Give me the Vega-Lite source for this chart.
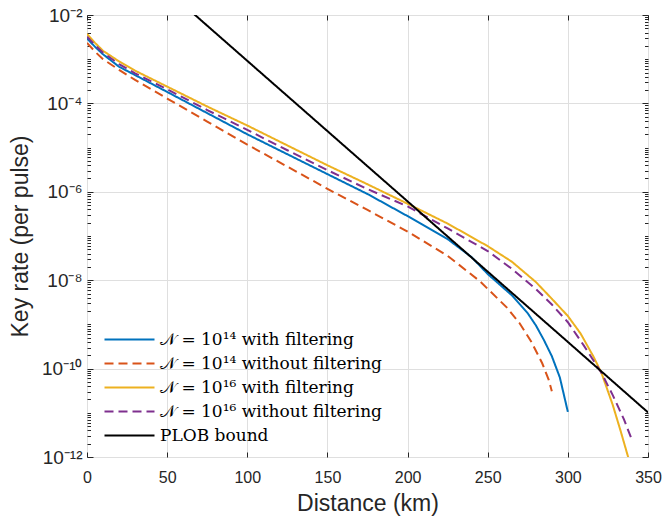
{
  "$schema": "https://vega.github.io/schema/vega-lite/v6.json",
  "width": 561,
  "height": 442,
  "autosize": "none",
  "padding": {"left": 87, "top": 15, "right": 16, "bottom": 59},
  "background": "white",
  "config": {
    "view": {"stroke": "#262626", "strokeWidth": 1},
    "axis": {
      "labelFont": "Liberation Sans",
      "labelFontSize": 16,
      "labelColor": "#262626",
      "titleFont": "Liberation Sans",
      "titleFontSize": 23,
      "titleFontWeight": "normal",
      "titleColor": "#262626",
      "gridColor": "#dfdfdf",
      "gridOpacity": 1,
      "tickColor": "#262626",
      "domain": false
    }
  },
  "data": {
    "values": [
      {"s": "N14w", "d": 0, "k": 2.95e-3},
      {"s": "N14w", "d": 5, "k": 1.91e-3},
      {"s": "N14w", "d": 10, "k": 1.29e-3},
      {"s": "N14w", "d": 20, "k": 6.76e-4},
      {"s": "N14w", "d": 30, "k": 4.37e-4},
      {"s": "N14w", "d": 50, "k": 1.82e-4},
      {"s": "N14w", "d": 75, "k": 6.03e-5},
      {"s": "N14w", "d": 100, "k": 2.0e-5},
      {"s": "N14w", "d": 125, "k": 7.08e-6},
      {"s": "N14w", "d": 150, "k": 2.51e-6},
      {"s": "N14w", "d": 175, "k": 8.91e-7},
      {"s": "N14w", "d": 200, "k": 2.82e-7},
      {"s": "N14w", "d": 225, "k": 8.51e-8},
      {"s": "N14w", "d": 240, "k": 3.31e-8},
      {"s": "N14w", "d": 250, "k": 1.38e-8},
      {"s": "N14w", "d": 265, "k": 4.57e-9},
      {"s": "N14w", "d": 275, "k": 1.78e-9},
      {"s": "N14w", "d": 280, "k": 9.55e-10},
      {"s": "N14w", "d": 285, "k": 4.47e-10},
      {"s": "N14w", "d": 290, "k": 1.91e-10},
      {"s": "N14w", "d": 295, "k": 6.31e-11},
      {"s": "N14w", "d": 300, "k": 1.05e-11},

      {"s": "N14o", "d": 0, "k": 2.34e-3},
      {"s": "N14o", "d": 5, "k": 1.48e-3},
      {"s": "N14o", "d": 10, "k": 1.0e-3},
      {"s": "N14o", "d": 20, "k": 5.75e-4},
      {"s": "N14o", "d": 30, "k": 3.39e-4},
      {"s": "N14o", "d": 50, "k": 1.29e-4},
      {"s": "N14o", "d": 75, "k": 3.89e-5},
      {"s": "N14o", "d": 100, "k": 1.17e-5},
      {"s": "N14o", "d": 125, "k": 3.72e-6},
      {"s": "N14o", "d": 150, "k": 1.17e-6},
      {"s": "N14o", "d": 175, "k": 3.89e-7},
      {"s": "N14o", "d": 200, "k": 1.26e-7},
      {"s": "N14o", "d": 225, "k": 3.55e-8},
      {"s": "N14o", "d": 245, "k": 9.55e-9},
      {"s": "N14o", "d": 262, "k": 2.40e-9},
      {"s": "N14o", "d": 270, "k": 1.05e-9},
      {"s": "N14o", "d": 277, "k": 4.17e-10},
      {"s": "N14o", "d": 284, "k": 1.32e-10},
      {"s": "N14o", "d": 288, "k": 5.62e-11},
      {"s": "N14o", "d": 290, "k": 3.09e-11},

      {"s": "N16w", "d": 0, "k": 3.72e-3},
      {"s": "N16w", "d": 5, "k": 2.34e-3},
      {"s": "N16w", "d": 10, "k": 1.55e-3},
      {"s": "N16w", "d": 20, "k": 8.91e-4},
      {"s": "N16w", "d": 30, "k": 5.5e-4},
      {"s": "N16w", "d": 50, "k": 2.4e-4},
      {"s": "N16w", "d": 75, "k": 8.51e-5},
      {"s": "N16w", "d": 100, "k": 3.16e-5},
      {"s": "N16w", "d": 125, "k": 1.12e-5},
      {"s": "N16w", "d": 150, "k": 3.98e-6},
      {"s": "N16w", "d": 175, "k": 1.48e-6},
      {"s": "N16w", "d": 200, "k": 5.37e-7},
      {"s": "N16w", "d": 225, "k": 1.91e-7},
      {"s": "N16w", "d": 250, "k": 5.89e-8},
      {"s": "N16w", "d": 265, "k": 2.63e-8},
      {"s": "N16w", "d": 280, "k": 9.12e-9},
      {"s": "N16w", "d": 290, "k": 3.8e-9},
      {"s": "N16w", "d": 300, "k": 1.55e-9},
      {"s": "N16w", "d": 308, "k": 6.17e-10},
      {"s": "N16w", "d": 316, "k": 1.86e-10},
      {"s": "N16w", "d": 321, "k": 7.94e-11},
      {"s": "N16w", "d": 328, "k": 1.51e-11},
      {"s": "N16w", "d": 333, "k": 3.8e-12},
      {"s": "N16w", "d": 338, "k": 8.9e-13},

      {"s": "N16o", "d": 0, "k": 3.24e-3},
      {"s": "N16o", "d": 5, "k": 2.09e-3},
      {"s": "N16o", "d": 10, "k": 1.41e-3},
      {"s": "N16o", "d": 20, "k": 7.76e-4},
      {"s": "N16o", "d": 30, "k": 4.79e-4},
      {"s": "N16o", "d": 50, "k": 2.09e-4},
      {"s": "N16o", "d": 75, "k": 7.08e-5},
      {"s": "N16o", "d": 100, "k": 2.51e-5},
      {"s": "N16o", "d": 125, "k": 8.71e-6},
      {"s": "N16o", "d": 150, "k": 3.09e-6},
      {"s": "N16o", "d": 175, "k": 1.15e-6},
      {"s": "N16o", "d": 200, "k": 4.68e-7},
      {"s": "N16o", "d": 225, "k": 1.48e-7},
      {"s": "N16o", "d": 250, "k": 4.57e-8},
      {"s": "N16o", "d": 265, "k": 1.82e-8},
      {"s": "N16o", "d": 280, "k": 6.31e-9},
      {"s": "N16o", "d": 290, "k": 2.82e-9},
      {"s": "N16o", "d": 300, "k": 1.12e-9},
      {"s": "N16o", "d": 310, "k": 3.31e-10},
      {"s": "N16o", "d": 321, "k": 7.94e-11},
      {"s": "N16o", "d": 328, "k": 2.51e-11},
      {"s": "N16o", "d": 335, "k": 7.08e-12},
      {"s": "N16o", "d": 339.5, "k": 2.69e-12},

      {"s": "PLOB", "d": 60, "k": 1.72e-2},
      {"s": "PLOB", "d": 100, "k": 9.18e-4},
      {"s": "PLOB", "d": 150, "k": 2.36e-5},
      {"s": "PLOB", "d": 200, "k": 6.07e-7},
      {"s": "PLOB", "d": 250, "k": 1.56e-8},
      {"s": "PLOB", "d": 300, "k": 4.01e-10},
      {"s": "PLOB", "d": 350, "k": 1.02e-11}
    ]
  },
  "resolve": {"axis": {"x": "independent", "y": "independent"}},
  "layer": [
    {
      "mark": {"type": "line", "strokeWidth": 2, "clip": true},
      "encoding": {
        "x": {
          "field": "d", "type": "quantitative",
          "scale": {"domain": [0, 350], "nice": false, "zero": false},
          "axis": {"orient": "bottom", "title": "Distance (km)", "values": [0, 50, 100, 150, 200, 250, 300, 350], "ticks": false, "grid": true, "labelPadding": 12, "titlePadding": 7, "labelFlush": false}
        },
        "y": {
          "field": "k", "type": "quantitative",
          "scale": {"type": "log", "domain": [1e-12, 1e-2], "nice": false},
          "axis": {
            "orient": "left", "title": "Key rate (per pulse)",
            "values": [1e-12, 1e-10, 1e-8, 1e-6, 1e-4, 1e-2],
            "ticks": false, "grid": true, "labelPadding": 5, "titlePadding": 9, "labelFlush": false, "labelFontSize": 19,
            "labelExpr": "'10' + replace(replace(replace(replace(replace(replace(replace(toString(round(log(datum.value)/LN10)),'-','⁻'),'0','⁰'),'1','¹'),'2','²'),'4','⁴'),'6','⁶'),'8','⁸')"
          }
        },
        "color": {
          "field": "s", "type": "nominal",
          "scale": {
            "domain": ["N14w", "N14o", "N16w", "N16o", "PLOB"],
            "range": ["#0072BD", "#D95319", "#EDB120", "#7E2F8E", "#000000"]
          },
          "legend": {
            "title": null, "orient": "none", "legendX": 34, "legendY": 316,
            "symbolType": "M-5,0H5", "symbolSize": 100, "symbolStrokeWidth": 2,
            "labelFont": "DejaVu Serif", "labelFontSize": 17, "labelColor": "#000000", "labelLimit": 400,
            "labelOffset": 22, "rowPadding": 6, "padding": 0,
            "labelExpr": "datum.value == 'N14w' ? '𝒩 = 10¹⁴ with filtering' : datum.value == 'N14o' ? '𝒩 = 10¹⁴ without filtering' : datum.value == 'N16w' ? '𝒩 = 10¹⁶ with filtering' : datum.value == 'N16o' ? '𝒩 = 10¹⁶ without filtering' : 'PLOB bound'"
          }
        },
        "strokeDash": {
          "field": "s", "type": "nominal",
          "scale": {
            "domain": ["N14w", "N14o", "N16w", "N16o", "PLOB"],
            "range": [[1, 0], [9, 5], [1, 0], [9, 5], [1, 0]]
          },
          "legend": {
            "title": null, "orient": "none", "legendX": 34, "legendY": 316,
            "symbolType": "M-5,0H5", "symbolSize": 100, "symbolStrokeWidth": 2,
            "labelFont": "DejaVu Serif", "labelFontSize": 17, "labelColor": "#000000", "labelLimit": 400,
            "labelOffset": 22, "rowPadding": 6, "padding": 0,
            "labelExpr": "datum.value == 'N14w' ? '𝒩 = 10¹⁴ with filtering' : datum.value == 'N14o' ? '𝒩 = 10¹⁴ without filtering' : datum.value == 'N16w' ? '𝒩 = 10¹⁶ with filtering' : datum.value == 'N16o' ? '𝒩 = 10¹⁶ without filtering' : 'PLOB bound'"
          }
        }
      }
    },
    {
      "mark": {"type": "point", "opacity": 0},
      "encoding": {
        "x": {"field": "d", "type": "quantitative", "axis": {"orient": "bottom", "values": [0, 50, 100, 150, 200, 250, 300, 350], "labels": false, "grid": false, "title": null, "tickSize": -5}},
        "y": {"field": "k", "type": "quantitative", "axis": {"orient": "left", "values": [1e-12, 1e-10, 1e-8, 1e-6, 1e-4, 1e-2], "labels": false, "grid": false, "title": null, "tickSize": -6}}
      }
    },
    {
      "mark": {"type": "point", "opacity": 0},
      "encoding": {
        "x": {"field": "d", "type": "quantitative", "axis": {"orient": "top", "values": [0, 50, 100, 150, 200, 250, 300, 350], "labels": false, "grid": false, "title": null, "tickSize": -5}},
        "y": {"field": "k", "type": "quantitative", "axis": {"orient": "left", "labels": false, "grid": false, "title": null, "tickSize": -3.5,
          "values": [2e-12,3e-12,4e-12,5e-12,6e-12,7e-12,8e-12,9e-12,1e-11,2e-11,3e-11,4e-11,5e-11,6e-11,7e-11,8e-11,9e-11,2e-10,3e-10,4e-10,5e-10,6e-10,7e-10,8e-10,9e-10,1e-9,2e-9,3e-9,4e-9,5e-9,6e-9,7e-9,8e-9,9e-9,2e-8,3e-8,4e-8,5e-8,6e-8,7e-8,8e-8,9e-8,1e-7,2e-7,3e-7,4e-7,5e-7,6e-7,7e-7,8e-7,9e-7,2e-6,3e-6,4e-6,5e-6,6e-6,7e-6,8e-6,9e-6,1e-5,2e-5,3e-5,4e-5,5e-5,6e-5,7e-5,8e-5,9e-5,2e-4,3e-4,4e-4,5e-4,6e-4,7e-4,8e-4,9e-4,1e-3,2e-3,3e-3,4e-3,5e-3,6e-3,7e-3,8e-3,9e-3]}}
      }
    },
    {
      "mark": {"type": "point", "opacity": 0},
      "encoding": {
        "x": {"field": "d", "type": "quantitative", "axis": null},
        "y": {"field": "k", "type": "quantitative", "axis": {"orient": "right", "values": [1e-12, 1e-10, 1e-8, 1e-6, 1e-4, 1e-2], "labels": false, "grid": false, "title": null, "tickSize": -6}}
      }
    },
    {
      "mark": {"type": "point", "opacity": 0},
      "encoding": {
        "x": {"field": "d", "type": "quantitative", "axis": null},
        "y": {"field": "k", "type": "quantitative", "axis": {"orient": "right", "labels": false, "grid": false, "title": null, "tickSize": -3.5,
          "values": [2e-12,3e-12,4e-12,5e-12,6e-12,7e-12,8e-12,9e-12,1e-11,2e-11,3e-11,4e-11,5e-11,6e-11,7e-11,8e-11,9e-11,2e-10,3e-10,4e-10,5e-10,6e-10,7e-10,8e-10,9e-10,1e-9,2e-9,3e-9,4e-9,5e-9,6e-9,7e-9,8e-9,9e-9,2e-8,3e-8,4e-8,5e-8,6e-8,7e-8,8e-8,9e-8,1e-7,2e-7,3e-7,4e-7,5e-7,6e-7,7e-7,8e-7,9e-7,2e-6,3e-6,4e-6,5e-6,6e-6,7e-6,8e-6,9e-6,1e-5,2e-5,3e-5,4e-5,5e-5,6e-5,7e-5,8e-5,9e-5,2e-4,3e-4,4e-4,5e-4,6e-4,7e-4,8e-4,9e-4,1e-3,2e-3,3e-3,4e-3,5e-3,6e-3,7e-3,8e-3,9e-3]}}
      }
    }
  ]
}
